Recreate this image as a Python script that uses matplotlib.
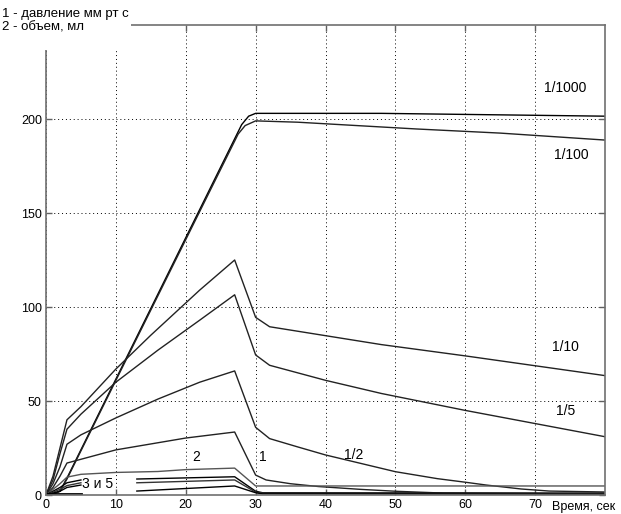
import numpy as np
import matplotlib
matplotlib.use("Agg")
import matplotlib.pyplot as plt
from matplotlib.patches import Rectangle

nan = np.nan

# ---- data ----
v1000_x = [0, 1, 2, 3, 28, 29, 30, 48, 80]
v1000_y = [0, 0.5, 2, 9, 197, 201.5, 203, 203, 201.5]

v100_x = [0, 1, 2, 3, 27.5, 28.5, 30, 36, 53, 65, 80]
v100_y = [0, 0.5, 2, 8.5, 192, 196.5, 199, 198.3, 194.7, 192.5, 188.8]

p10_x = [0, 1, 2, 3, 5, 10, 15, 22, 27, 30, 32, 48, 60, 80]
p10_y = [0, 10, 25, 40, 47, 67, 85, 109, 125, 94.5, 89.5, 80, 74, 63.5]

p5_x = [0, 1, 2, 3, 5, 10, 16, 22, 27, 30, 32, 40, 48, 60, 70, 80]
p5_y = [0, 8, 22, 35, 43, 60, 77, 93, 106.5, 74.5, 69, 61, 54, 45, 38, 31]

p2_x = [0, 1, 2, 3, 5, 10, 16, 22, 27, 30, 32, 36, 40, 50, 56, 60, 63, 68, 72, 80]
p2_y = [0, 6, 15, 27, 32, 41, 51, 60, 66, 36, 30, 25.6, 21.3, 12.4, 8.7, 6.8, 5.3, 3.2, 2.1, 1.6]

p1_x = [0, 1, 2, 3, 5, 10, 20, 27, 30, 31.5, 35, 39, 45, 50, 57, 65, 80]
p1_y = [0, 4, 10, 17, 19, 24, 30.3, 33.5, 10.6, 8, 6, 4.5, 3, 2, 1, 0.8, 0.6]

q2_x = [0, 1, 2, 3, 5, 10, 16, 20, 27, 30, 80]
q2_y = [0, 3, 6, 9.5, 11, 12, 12.5, 13.5, 14.3, 4.8, 4.8]

q3_x = [0, 1, 2, 3, 5, nan, 13, 27, 30, 31, 80]
q3_y = [0, 2, 4, 6.5, 8, nan, 8.5, 9.7, 2, 1.2, 1.0]

q5_x = [0, 1, 2, 3, 5, nan, 13, 27, 30, 31, 80]
q5_y = [0, 1.5, 3, 5, 6.5, nan, 6.5, 8, 1.5, 1, 0.8]

q6_x = [0, 1, 2, 3, 5, nan, 13, 27, 30, 31, 80]
q6_y = [0, 1, 2, 4, 5.3, nan, 2.1, 4.8, 1.2, 0.6, 0.4]

base_x = [0, 5]
base_y = [0.5, 0.5]

xticks = [0, 10, 20, 30, 40, 50, 60, 70]
yticks = [0, 50, 100, 150, 200]

curve_labels = [("1/1000", 71.3, 216.5), ("1/100", 72.7, 181), ("1/10", 72.4, 78.7),
                ("1/5", 73.0, 44.7), ("1/2", 42.7, 21.3), ("1", 30.5, 20.2),
                ("2", 21.0, 20.2), ("3 и 5", 5.1, 5.9)]

legend_lines = ["1 - давление мм рт с", "2 - объем, мл"]

# ---- figure ----
plt.rcParams['font.family'] = ['Liberation Sans', 'DejaVu Sans']
fig = plt.figure(figsize=(6.21, 5.14), dpi=100)
ax = fig.add_axes([46/621, 1-495/514, (605-46)/621, (495-25)/514])

lw = 1.0
ax.plot(v1000_x, v1000_y, color='black', lw=lw)
ax.plot(v100_x, v100_y, color='#222222', lw=lw)
ax.plot(p10_x, p10_y, color='#222222', lw=lw)
ax.plot(p5_x, p5_y, color='#222222', lw=lw)
ax.plot(p2_x, p2_y, color='#222222', lw=lw)
ax.plot(p1_x, p1_y, color='#222222', lw=lw)
ax.plot(q2_x, q2_y, color='#555555', lw=lw)
ax.plot(q3_x, q3_y, color='black', lw=lw)
ax.plot(q5_x, q5_y, color='#333333', lw=lw)
ax.plot(q6_x, q6_y, color='black', lw=lw)
ax.plot(base_x, base_y, color='black', lw=2)

ax.set_xlim(0, 80)
ax.set_ylim(0, 250)
ax.set_xticks(xticks)
ax.set_yticks(yticks)
ax.tick_params(direction='in', length=4, width=1, top=True, right=True,
               labelsize=9, colors='#606060', labelcolor='black', pad=3)
ax.grid(True, color='black', linestyle=(0, (1, 3)), lw=0.7)
for s in ax.spines.values():
    s.set_color('#707070')
    s.set_linewidth(1.2)

for txt, x, y in curve_labels:
    ax.text(x, y, txt, fontsize=10, ha='left', va='center', color='black')

ax.text(72.4, -6.3, "Время, сек", fontsize=9, ha='left', va='center', clip_on=False)

# white box covering the top-left corner (legend area)
fig.patches.append(Rectangle((0, 1-50/514), 131/621, 50/514, transform=fig.transFigure,
                             facecolor='white', edgecolor='none', zorder=5))
fig.text(2/621, 1-14/514, legend_lines[0], fontsize=9.5, va='center', ha='left', zorder=6)
fig.text(2/621, 1-28/514, legend_lines[1], fontsize=9.5, va='center', ha='left', zorder=6)

fig.savefig("out.png", dpi=100)
